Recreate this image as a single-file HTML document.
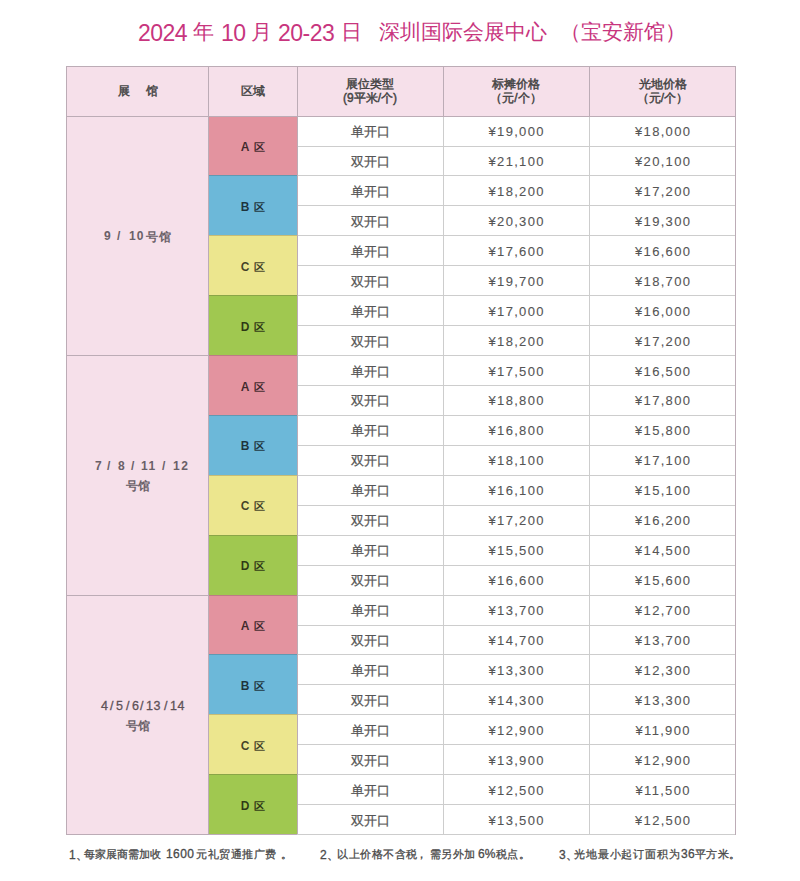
<!DOCTYPE html>
<html><head><meta charset="utf-8"><style>
html,body{margin:0;padding:0;background:#fff;width:800px;height:881px;overflow:hidden}
body{position:relative;font-family:"Liberation Sans",sans-serif}
body>div{position:absolute;box-sizing:border-box}
.h,.zone,.cell{display:flex;align-items:center;justify-content:center;text-align:center}
.h{font-size:12px;color:#444;-webkit-text-stroke:0.45px #444;line-height:14px}
.hb{font-size:12px;font-weight:bold;color:#6a6068;white-space:pre;line-height:normal}
.hm{font-size:12.5px;color:#5e5258;-webkit-text-stroke:0.3px #5e5258;white-space:pre;line-height:normal}
.zone{font-size:12px;font-weight:bold;color:rgba(0,0,0,0.72);line-height:30px}
.qu{font-size:11px;margin-left:5px}
.cell{font-size:12.5px;color:#555555;-webkit-text-stroke:0.25px #555555;line-height:30px}
.num{letter-spacing:1.3px;font-size:13px;padding-left:1.3px;-webkit-text-stroke:0.1px #555}
.t{color:#c8357e;white-space:pre;line-height:normal}
.d{top:20px;font-size:23px;letter-spacing:-0.5px}
.c{top:18px;font-size:21px}
.nd,.nc{color:#4a4a4a;white-space:pre;line-height:normal}
.nd{top:847px;font-size:12px;-webkit-text-stroke:0.3px #4a4a4a}
.nc{top:847px;font-size:11px;-webkit-text-stroke:0.3px #4a4a4a}
</style></head><body>
<div class="t d" style="left:138px">2024</div><div class="t c" style="left:193px">年</div><div class="t d" style="left:221px">10</div><div class="t c" style="left:251px">月</div><div class="t d" style="left:278px">20-23</div><div class="t c" style="left:341px">日</div><div class="t c" style="left:379px">深圳国际会展中心</div><div class="t c" style="left:560px">（宝安新馆）</div>
<div style="left:66px;top:66px;width:669px;height:51px;background:#f6e0ea"></div>
<div style="left:66px;top:116px;width:142px;height:718px;background:#f6e0ea"></div>
<div style="left:208px;top:116px;width:90px;height:60px;background:#e3939f"></div>
<div style="left:208px;top:175px;width:90px;height:61px;background:#6cb8d9"></div>
<div style="left:208px;top:235px;width:90px;height:61px;background:#ece68e"></div>
<div style="left:208px;top:295px;width:90px;height:61px;background:#a0c850"></div>
<div style="left:208px;top:355px;width:90px;height:61px;background:#e3939f"></div>
<div style="left:208px;top:415px;width:90px;height:61px;background:#6cb8d9"></div>
<div style="left:208px;top:475px;width:90px;height:61px;background:#ece68e"></div>
<div style="left:208px;top:535px;width:90px;height:61px;background:#a0c850"></div>
<div style="left:208px;top:595px;width:90px;height:60px;background:#e3939f"></div>
<div style="left:208px;top:654px;width:90px;height:61px;background:#6cb8d9"></div>
<div style="left:208px;top:714px;width:90px;height:61px;background:#ece68e"></div>
<div style="left:208px;top:774px;width:90px;height:61px;background:#a0c850"></div>
<div style="left:298px;top:146px;width:437px;height:1px;background:#cdcdcd"></div>
<div style="left:298px;top:175px;width:437px;height:1px;background:#cdcdcd"></div>
<div style="left:298px;top:205px;width:437px;height:1px;background:#cdcdcd"></div>
<div style="left:298px;top:235px;width:437px;height:1px;background:#cdcdcd"></div>
<div style="left:298px;top:265px;width:437px;height:1px;background:#cdcdcd"></div>
<div style="left:298px;top:295px;width:437px;height:1px;background:#cdcdcd"></div>
<div style="left:298px;top:325px;width:437px;height:1px;background:#cdcdcd"></div>
<div style="left:298px;top:355px;width:437px;height:1px;background:#cdcdcd"></div>
<div style="left:298px;top:385px;width:437px;height:1px;background:#cdcdcd"></div>
<div style="left:298px;top:415px;width:437px;height:1px;background:#cdcdcd"></div>
<div style="left:298px;top:445px;width:437px;height:1px;background:#cdcdcd"></div>
<div style="left:298px;top:475px;width:437px;height:1px;background:#cdcdcd"></div>
<div style="left:298px;top:505px;width:437px;height:1px;background:#cdcdcd"></div>
<div style="left:298px;top:535px;width:437px;height:1px;background:#cdcdcd"></div>
<div style="left:298px;top:565px;width:437px;height:1px;background:#cdcdcd"></div>
<div style="left:298px;top:595px;width:437px;height:1px;background:#cdcdcd"></div>
<div style="left:298px;top:625px;width:437px;height:1px;background:#cdcdcd"></div>
<div style="left:298px;top:654px;width:437px;height:1px;background:#cdcdcd"></div>
<div style="left:298px;top:684px;width:437px;height:1px;background:#cdcdcd"></div>
<div style="left:298px;top:714px;width:437px;height:1px;background:#cdcdcd"></div>
<div style="left:298px;top:744px;width:437px;height:1px;background:#cdcdcd"></div>
<div style="left:298px;top:774px;width:437px;height:1px;background:#cdcdcd"></div>
<div style="left:298px;top:804px;width:437px;height:1px;background:#cdcdcd"></div>
<div style="left:443px;top:116px;width:1px;height:718px;background:#cdcdcd"></div>
<div style="left:589px;top:116px;width:1px;height:718px;background:#cdcdcd"></div>
<div style="left:209px;top:175px;width:88px;height:1px;background:rgba(60,40,40,0.22)"></div>
<div style="left:209px;top:235px;width:88px;height:1px;background:rgba(60,40,40,0.22)"></div>
<div style="left:209px;top:295px;width:88px;height:1px;background:rgba(60,40,40,0.22)"></div>
<div style="left:209px;top:355px;width:88px;height:1px;background:rgba(60,40,40,0.22)"></div>
<div style="left:209px;top:415px;width:88px;height:1px;background:rgba(60,40,40,0.22)"></div>
<div style="left:209px;top:475px;width:88px;height:1px;background:rgba(60,40,40,0.22)"></div>
<div style="left:209px;top:535px;width:88px;height:1px;background:rgba(60,40,40,0.22)"></div>
<div style="left:209px;top:595px;width:88px;height:1px;background:rgba(60,40,40,0.22)"></div>
<div style="left:209px;top:654px;width:88px;height:1px;background:rgba(60,40,40,0.22)"></div>
<div style="left:209px;top:714px;width:88px;height:1px;background:rgba(60,40,40,0.22)"></div>
<div style="left:209px;top:774px;width:88px;height:1px;background:rgba(60,40,40,0.22)"></div>
<div style="left:208px;top:66px;width:1px;height:769px;background:#bcacb6"></div>
<div style="left:297px;top:66px;width:1px;height:769px;background:#bcacb6"></div>
<div style="left:443px;top:66px;width:1px;height:50px;background:#bcacb6"></div>
<div style="left:589px;top:66px;width:1px;height:50px;background:#bcacb6"></div>
<div style="left:66px;top:116px;width:669px;height:1px;background:#bcacb6"></div>
<div style="left:66px;top:355px;width:142px;height:1px;background:#bcacb6"></div>
<div style="left:66px;top:595px;width:142px;height:1px;background:#bcacb6"></div>
<div style="left:66px;top:66px;width:670px;height:1px;background:#bcacb6"></div>
<div style="left:66px;top:834px;width:231px;height:1px;background:#bcacb6"></div>
<div style="left:297px;top:834px;width:439px;height:1px;background:#cdcdcd"></div>
<div style="left:66px;top:66px;width:1px;height:769px;background:#bcacb6"></div>
<div style="left:735px;top:66px;width:1px;height:769px;background:#bcacb6"></div>
<div class="h" style="left:67px;top:66px;width:142px;height:50px;">展&nbsp;&nbsp;&nbsp;&nbsp;&nbsp;馆</div>
<div class="h" style="left:209px;top:66px;width:88px;height:50px;">区域</div>
<div class="h" style="left:297px;top:66px;width:146px;height:50px;">展位类型<br>(9平米/个)</div>
<div class="h" style="left:443px;top:66px;width:146px;height:50px;">标摊价格<br>（元/个）</div>
<div class="h" style="left:589px;top:66px;width:147px;height:50px;">光地价格<br>（元/个）</div>
<div class="hb" style="left:104px;top:229px;">9</div>
<div class="hb" style="left:117px;top:229px;">/</div>
<div class="hb" style="left:129px;top:229px;letter-spacing:1.2px">10</div>
<div class="hb" style="left:146px;top:229px;">号</div>
<div class="hb" style="left:159px;top:229px;">馆</div>
<div class="hb" style="left:95px;top:459px;">7</div>
<div class="hb" style="left:107px;top:459px;">/</div>
<div class="hb" style="left:118px;top:459px;">8</div>
<div class="hb" style="left:131px;top:459px;">/</div>
<div class="hb" style="left:141px;top:459px;letter-spacing:1.5px">11</div>
<div class="hb" style="left:162px;top:459px;">/</div>
<div class="hb" style="left:173px;top:459px;letter-spacing:1.5px">12</div>
<div class="hb" style="left:126px;top:478px;">号馆</div>
<div class="hm" style="left:101px;top:699px;">4</div>
<div class="hm" style="left:110px;top:699px;">/</div>
<div class="hm" style="left:116px;top:699px;">5</div>
<div class="hm" style="left:126px;top:699px;">/</div>
<div class="hm" style="left:132px;top:699px;">6</div>
<div class="hm" style="left:140px;top:699px;">/</div>
<div class="hm" style="left:146px;top:699px;letter-spacing:0.5px">13</div>
<div class="hm" style="left:164px;top:699px;">/</div>
<div class="hm" style="left:170px;top:699px;letter-spacing:0.5px">14</div>
<div class="hb" style="left:126px;top:718px;">号馆</div>
<div class="zone" style="left:209px;top:132px;width:88px;height:30px;">A<span class="qu">区</span></div>
<div class="zone" style="left:209px;top:192px;width:88px;height:30px;">B<span class="qu">区</span></div>
<div class="zone" style="left:209px;top:252px;width:88px;height:30px;">C<span class="qu">区</span></div>
<div class="zone" style="left:209px;top:312px;width:88px;height:30px;">D<span class="qu">区</span></div>
<div class="cell" style="left:297px;top:117px;width:146px;height:30px;">单开口</div>
<div class="cell num" style="left:443px;top:117px;width:146px;height:30px;">¥19,000</div>
<div class="cell num" style="left:589px;top:117px;width:147px;height:30px;">¥18,000</div>
<div class="cell" style="left:297px;top:147px;width:146px;height:30px;">双开口</div>
<div class="cell num" style="left:443px;top:147px;width:146px;height:30px;">¥21,100</div>
<div class="cell num" style="left:589px;top:147px;width:147px;height:30px;">¥20,100</div>
<div class="cell" style="left:297px;top:177px;width:146px;height:30px;">单开口</div>
<div class="cell num" style="left:443px;top:177px;width:146px;height:30px;">¥18,200</div>
<div class="cell num" style="left:589px;top:177px;width:147px;height:30px;">¥17,200</div>
<div class="cell" style="left:297px;top:207px;width:146px;height:30px;">双开口</div>
<div class="cell num" style="left:443px;top:207px;width:146px;height:30px;">¥20,300</div>
<div class="cell num" style="left:589px;top:207px;width:147px;height:30px;">¥19,300</div>
<div class="cell" style="left:297px;top:237px;width:146px;height:30px;">单开口</div>
<div class="cell num" style="left:443px;top:237px;width:146px;height:30px;">¥17,600</div>
<div class="cell num" style="left:589px;top:237px;width:147px;height:30px;">¥16,600</div>
<div class="cell" style="left:297px;top:267px;width:146px;height:30px;">双开口</div>
<div class="cell num" style="left:443px;top:267px;width:146px;height:30px;">¥19,700</div>
<div class="cell num" style="left:589px;top:267px;width:147px;height:30px;">¥18,700</div>
<div class="cell" style="left:297px;top:297px;width:146px;height:30px;">单开口</div>
<div class="cell num" style="left:443px;top:297px;width:146px;height:30px;">¥17,000</div>
<div class="cell num" style="left:589px;top:297px;width:147px;height:30px;">¥16,000</div>
<div class="cell" style="left:297px;top:327px;width:146px;height:30px;">双开口</div>
<div class="cell num" style="left:443px;top:327px;width:146px;height:30px;">¥18,200</div>
<div class="cell num" style="left:589px;top:327px;width:147px;height:30px;">¥17,200</div>
<div class="zone" style="left:209px;top:372px;width:88px;height:30px;">A<span class="qu">区</span></div>
<div class="zone" style="left:209px;top:431px;width:88px;height:30px;">B<span class="qu">区</span></div>
<div class="zone" style="left:209px;top:491px;width:88px;height:30px;">C<span class="qu">区</span></div>
<div class="zone" style="left:209px;top:551px;width:88px;height:30px;">D<span class="qu">区</span></div>
<div class="cell" style="left:297px;top:357px;width:146px;height:30px;">单开口</div>
<div class="cell num" style="left:443px;top:357px;width:146px;height:30px;">¥17,500</div>
<div class="cell num" style="left:589px;top:357px;width:147px;height:30px;">¥16,500</div>
<div class="cell" style="left:297px;top:386px;width:146px;height:30px;">双开口</div>
<div class="cell num" style="left:443px;top:386px;width:146px;height:30px;">¥18,800</div>
<div class="cell num" style="left:589px;top:386px;width:147px;height:30px;">¥17,800</div>
<div class="cell" style="left:297px;top:416px;width:146px;height:30px;">单开口</div>
<div class="cell num" style="left:443px;top:416px;width:146px;height:30px;">¥16,800</div>
<div class="cell num" style="left:589px;top:416px;width:147px;height:30px;">¥15,800</div>
<div class="cell" style="left:297px;top:446px;width:146px;height:30px;">双开口</div>
<div class="cell num" style="left:443px;top:446px;width:146px;height:30px;">¥18,100</div>
<div class="cell num" style="left:589px;top:446px;width:147px;height:30px;">¥17,100</div>
<div class="cell" style="left:297px;top:476px;width:146px;height:30px;">单开口</div>
<div class="cell num" style="left:443px;top:476px;width:146px;height:30px;">¥16,100</div>
<div class="cell num" style="left:589px;top:476px;width:147px;height:30px;">¥15,100</div>
<div class="cell" style="left:297px;top:506px;width:146px;height:30px;">双开口</div>
<div class="cell num" style="left:443px;top:506px;width:146px;height:30px;">¥17,200</div>
<div class="cell num" style="left:589px;top:506px;width:147px;height:30px;">¥16,200</div>
<div class="cell" style="left:297px;top:536px;width:146px;height:30px;">单开口</div>
<div class="cell num" style="left:443px;top:536px;width:146px;height:30px;">¥15,500</div>
<div class="cell num" style="left:589px;top:536px;width:147px;height:30px;">¥14,500</div>
<div class="cell" style="left:297px;top:566px;width:146px;height:30px;">双开口</div>
<div class="cell num" style="left:443px;top:566px;width:146px;height:30px;">¥16,600</div>
<div class="cell num" style="left:589px;top:566px;width:147px;height:30px;">¥15,600</div>
<div class="zone" style="left:209px;top:611px;width:88px;height:30px;">A<span class="qu">区</span></div>
<div class="zone" style="left:209px;top:671px;width:88px;height:30px;">B<span class="qu">区</span></div>
<div class="zone" style="left:209px;top:731px;width:88px;height:30px;">C<span class="qu">区</span></div>
<div class="zone" style="left:209px;top:791px;width:88px;height:30px;">D<span class="qu">区</span></div>
<div class="cell" style="left:297px;top:596px;width:146px;height:30px;">单开口</div>
<div class="cell num" style="left:443px;top:596px;width:146px;height:30px;">¥13,700</div>
<div class="cell num" style="left:589px;top:596px;width:147px;height:30px;">¥12,700</div>
<div class="cell" style="left:297px;top:626px;width:146px;height:30px;">双开口</div>
<div class="cell num" style="left:443px;top:626px;width:146px;height:30px;">¥14,700</div>
<div class="cell num" style="left:589px;top:626px;width:147px;height:30px;">¥13,700</div>
<div class="cell" style="left:297px;top:656px;width:146px;height:30px;">单开口</div>
<div class="cell num" style="left:443px;top:656px;width:146px;height:30px;">¥13,300</div>
<div class="cell num" style="left:589px;top:656px;width:147px;height:30px;">¥12,300</div>
<div class="cell" style="left:297px;top:686px;width:146px;height:30px;">双开口</div>
<div class="cell num" style="left:443px;top:686px;width:146px;height:30px;">¥14,300</div>
<div class="cell num" style="left:589px;top:686px;width:147px;height:30px;">¥13,300</div>
<div class="cell" style="left:297px;top:716px;width:146px;height:30px;">单开口</div>
<div class="cell num" style="left:443px;top:716px;width:146px;height:30px;">¥12,900</div>
<div class="cell num" style="left:589px;top:716px;width:147px;height:30px;">¥11,900</div>
<div class="cell" style="left:297px;top:746px;width:146px;height:30px;">双开口</div>
<div class="cell num" style="left:443px;top:746px;width:146px;height:30px;">¥13,900</div>
<div class="cell num" style="left:589px;top:746px;width:147px;height:30px;">¥12,900</div>
<div class="cell" style="left:297px;top:776px;width:146px;height:30px;">单开口</div>
<div class="cell num" style="left:443px;top:776px;width:146px;height:30px;">¥12,500</div>
<div class="cell num" style="left:589px;top:776px;width:147px;height:30px;">¥11,500</div>
<div class="cell" style="left:297px;top:806px;width:146px;height:30px;">双开口</div>
<div class="cell num" style="left:443px;top:806px;width:146px;height:30px;">¥13,500</div>
<div class="cell num" style="left:589px;top:806px;width:147px;height:30px;">¥12,500</div>
<div class="nd" style="left:69px;">1、</div><div class="nc" style="left:84px;">每家展商需加收</div><div class="nd" style="left:166px;letter-spacing:0.4px">1600</div><div class="nc" style="left:196px;letter-spacing:0.55px">元礼贸通推广费</div><div class="nc" style="left:281px;">。</div><div class="nd" style="left:320px;">2、</div><div class="nc" style="left:337px;letter-spacing:0.55px">以上价格不含税</div><div class="nc" style="left:416px;">，</div><div class="nc" style="left:430px;letter-spacing:0.4px">需另外加</div><div class="nd" style="left:478px;">6%</div><div class="nc" style="left:496px;letter-spacing:0.4px">税点。</div><div class="nd" style="left:559px;">3、</div><div class="nc" style="left:574px;letter-spacing:0.85px">光地最小起订面积为</div><div class="nd" style="left:681px;letter-spacing:0.4px">36</div><div class="nc" style="left:695px;letter-spacing:0.4px">平方米。</div>
</body></html>
